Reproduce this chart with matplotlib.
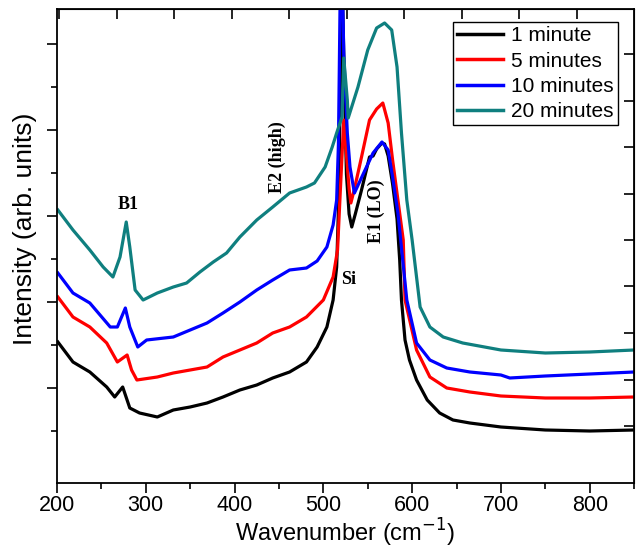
import matplotlib
matplotlib.use('Agg')
import matplotlib.pyplot as plt
from matplotlib.ticker import MultipleLocator

# Raman spectra, values (intensity in arb. units)
wn_1 = [201, 218, 237, 256, 265, 274, 282, 293, 313, 331, 350, 369, 387, 406, 425, 443,
        462, 481, 493, 504, 511, 515, 517, 519, 521, 523, 526, 529, 532, 536, 543, 552,
        556, 560, 566, 569, 573, 578, 583, 586, 588, 592, 597, 605, 617, 631, 646, 665,
        700, 750, 800, 850]
int_1 = [132, 112, 102, 87, 77, 87, 66, 61, 57, 64, 67, 71, 77, 84, 89, 96,
         102, 112, 127, 147, 174, 207, 264, 380, 500, 420, 300, 260, 247, 260, 284, 317,
         318, 325, 331, 330, 318, 290, 255, 214, 174, 134, 114, 94, 74, 61, 54, 51,
         47, 44, 43, 44]

wn_5 = [201, 218, 237, 256, 268, 279, 284, 290, 313, 331, 350, 369, 387, 406, 425, 443,
        462, 481, 500, 511, 516, 519, 523, 526, 529, 531, 535, 543, 552, 560, 567, 573,
        578, 584, 590, 592, 605, 620, 639, 665, 700, 750, 800, 850]
int_5 = [177, 157, 147, 131, 112, 119, 104, 94, 97, 101, 104, 107, 117, 124, 131, 141,
         147, 157, 174, 197, 224, 281, 354, 320, 285, 271, 285, 317, 354, 365, 371, 351,
         314, 274, 234, 174, 124, 97, 86, 82, 78, 76, 76, 77]

wn_10 = [201, 218, 237, 260, 268, 277, 282, 291, 301, 331, 350, 369, 387, 406, 425, 443,
         462, 481, 493, 504, 511, 515, 517, 520, 523, 527, 530, 535, 547, 556, 566, 573,
         578, 584, 594, 605, 620, 639, 665, 700, 710, 750, 800, 850]
int_10 = [201, 181, 171, 147, 147, 166, 147, 127, 134, 137, 144, 151, 161, 172, 184, 194,
          204, 206, 213, 227, 249, 274, 330, 560, 420, 341, 307, 281, 304, 321, 332, 324,
          297, 261, 174, 131, 114, 106, 102, 99, 96, 98, 100, 102]

wn_20 = [201, 218, 237, 252, 263, 271, 278, 282, 288, 297, 313, 331, 346, 361, 376, 391,
         406, 425, 443, 462, 481, 490, 502, 510, 515, 521, 523, 527, 528, 539, 550, 560,
         569, 577, 583, 588, 594, 600, 609, 620, 635, 657, 700, 750, 800, 850]
int_20 = [264, 244, 224, 207, 197, 217, 252, 227, 184, 174, 181, 187, 191, 202, 212, 221,
          237, 254, 267, 281, 287, 291, 307, 327, 341, 357, 416, 374, 356, 387, 424, 446,
          451, 444, 407, 341, 274, 234, 167, 147, 137, 131, 124, 121, 122, 124]

labels = ['1 minute', '5 minutes', '10 minutes', '20 minutes']
colors = ['black', 'red', 'blue', '#0f7f7f']

# peak annotations: (text, wavenumber, intensity, rotation)
peaks = [('B1', 280, 270, 0), ('E2 (high)', 448, 317, 90),
         ('Si', 528, 195, 0), ('E1 (LO)', 560, 263, 90)]

plt.rcParams['font.family'] = ['Liberation Sans', 'DejaVu Sans']

fig = plt.figure(figsize=(6.36, 5.56), dpi=100)
ax = fig.add_axes([0.0896, 0.1313, 0.9074, 0.8525])

for wn, inten, lab, c in zip([wn_1, wn_5, wn_10, wn_20], [int_1, int_5, int_10, int_20],
                             labels, colors):
    ax.plot(wn, inten, color=c, lw=2.3, label=lab)

for txt, x, y, rot in peaks:
    ax.text(x, y, txt, rotation=rot, ha='center', va='center',
            family='Liberation Serif', weight='bold', fontsize=13)

ax.set_xlim(200, 850)
ax.set_ylim(-9, 465)
ax.xaxis.set_major_locator(MultipleLocator(100))
ax.xaxis.set_minor_locator(MultipleLocator(50))
ax.set_yticks([86, 172, 258, 344, 430])
ax.set_yticks([43, 129, 215, 301, 387], minor=True)
ax.set_yticklabels([])
ax.tick_params(which='both', direction='out', width=1.2, pad=2)
ax.tick_params(which='major', length=7, labelsize=15.5)
ax.tick_params(which='minor', length=4)
for sp in ax.spines.values():
    sp.set_linewidth(1.3)

# opposite axes: inward ticks only
top = ax.secondary_xaxis('top')
top.set_xticks([202.8, 267.6, 332.3, 397, 461.8, 526.6, 591, 656, 720, 785.5])
top.set_xticklabels([])
top.tick_params(direction='in', length=7, width=1.2)
right = ax.secondary_yaxis('right')
right.set_yticks([48, 94, 141, 187.6, 234, 280.4, 326.8, 373.2, 419.6])
right.set_yticklabels([])
right.tick_params(direction='in', length=7, width=1.2)

ax.set_xlabel('Wavenumber (cm$^{-1}$)', fontsize=17, labelpad=0)
ax.set_ylabel('Intensity (arb. units)', fontsize=19)
ax.yaxis.set_label_coords(-0.035, 0.536)

leg = ax.legend(loc='upper right', bbox_to_anchor=(0.972, 0.972), fontsize=15,
                fancybox=False, edgecolor='black', framealpha=1, handlelength=2.2,
                borderpad=0.2, labelspacing=0.3, handletextpad=0.4, borderaxespad=0)
leg.get_frame().set_linewidth(1.0)
for h in leg.get_lines():
    h.set_linewidth(2.5)

fig.savefig('out.png', dpi=100)
